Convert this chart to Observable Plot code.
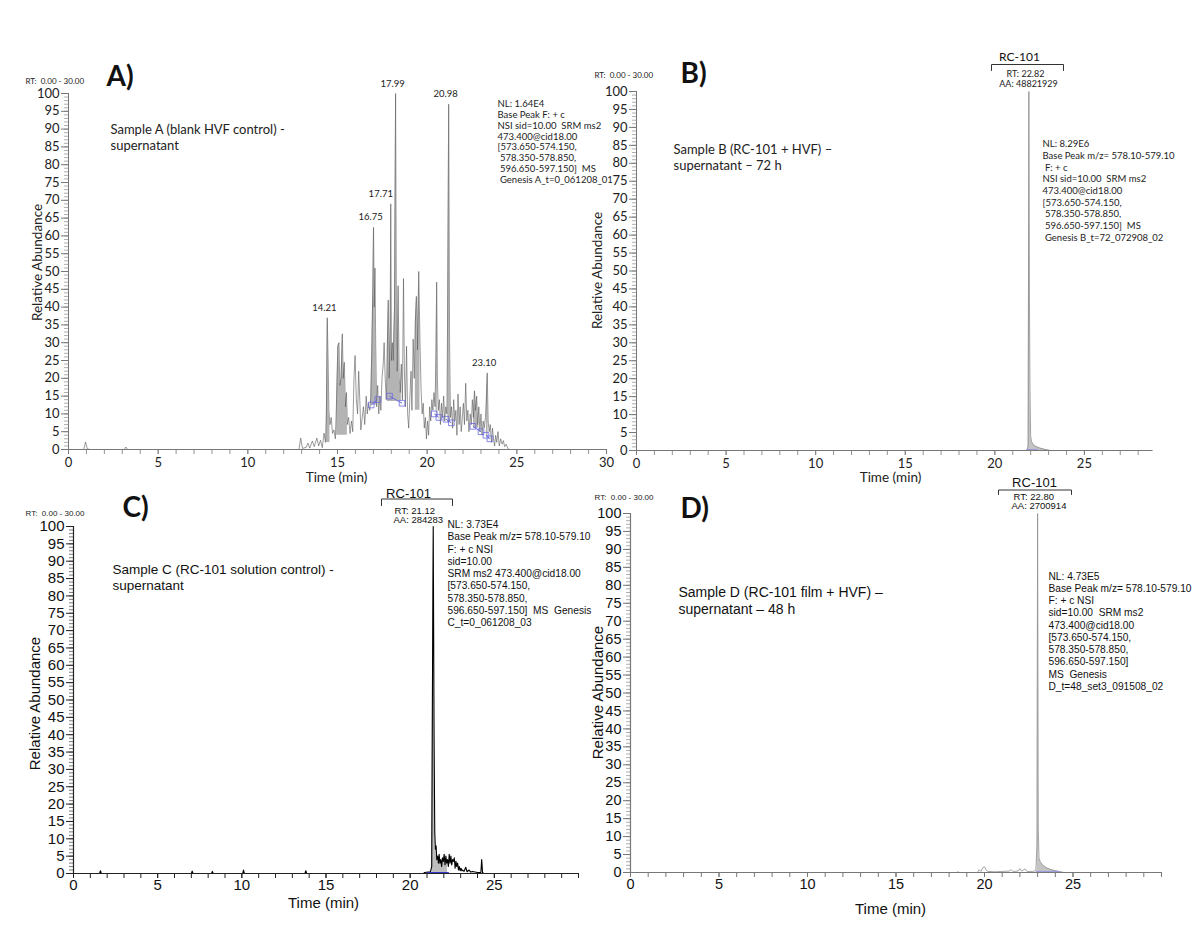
<!DOCTYPE html>
<html><head><meta charset="utf-8">
<script src="https://cdn.jsdelivr.net/npm/d3@7"></script>
<script src="https://cdn.jsdelivr.net/npm/@observablehq/plot@0.6"></script>
<style>
html,body{margin:0;padding:0;background:#fff;}
#chart{position:relative;width:1200px;height:927px;overflow:hidden;background:#fff;}
#chart svg{position:absolute;}
</style></head><body><div id="chart"></div>
<script>
// ---------- DATA ----------
// Sample A: [time (min), relative abundance]
const sampleA = [
[0,0],[0.85,0],[0.95,2.1],[1.05,0.2],[1.2,0],[3.1,0],[3.2,0.7],[3.3,0],[12.85,0],[12.95,3.2],
[13.05,0.3],[13.25,0.6],[13.35,1.8],[13.45,0.4],[13.6,2.4],[13.7,0.8],[13.85,3.2],[13.95,1.0],[14.05,2.6],[14.15,0.5],
[14.25,4.6],[14.33,2.0],[14.38,10],[14.43,37],[14.48,24],[14.52,11],[14.58,7],[14.65,9],[14.72,4.5],[14.8,5.5],
[14.88,3],[14.95,14],[15.02,29],[15.08,30],[15.13,18],[15.2,20],[15.27,32.5],[15.32,20],[15.38,24.5],[15.44,12],
[15.5,16],[15.55,7],[15.62,9],[15.7,4.5],[15.78,8],[15.85,5],[15.92,20],[15.98,26.4],[16.05,14],[16.12,10],
[16.18,22],[16.25,13],[16.3,5.5],[16.38,9],[16.45,12],[16.52,7],[16.6,15],[16.66,10],[16.72,13],[16.8,11],
[16.86,15],[16.92,30],[16.97,45],[17.01,62.4],[17.05,40],[17.09,51],[17.13,30],[17.18,12],[17.24,18],[17.3,10],
[17.36,15],[17.42,11],[17.48,20],[17.55,24],[17.6,30],[17.66,20],[17.72,14],[17.78,29],[17.83,42],[17.88,20],
[17.94,35],[17.97,69],[18.01,25],[18.06,30],[18.11,25],[18.18,40],[18.24,100],[18.29,30],[18.33,22],[18.38,46],
[18.44,20],[18.5,16],[18.56,24],[18.62,14],[18.68,48],[18.73,22],[18.79,12],[18.85,29],[18.91,10],[18.97,6],
[19.03,14],[19.1,22],[19.15,11],[19.22,31],[19.28,20],[19.34,36],[19.4,43],[19.46,28],[19.53,50],[19.6,30],
[19.66,17],[19.72,10],[19.78,13],[19.84,6],[19.9,9],[19.96,3],[20.02,8],[20.08,4],[20.14,12],[20.2,8],
[20.26,14],[20.32,11],[20.38,16],[20.44,12],[20.5,30],[20.53,47],[20.57,20],[20.62,11],[20.68,14],[20.74,7],
[20.8,13],[20.86,9],[20.92,15],[20.98,8],[21.04,12],[21.1,10],[21.15,45],[21.2,97],[21.25,30],[21.3,9],
[21.36,12],[21.42,6],[21.48,14],[21.54,8],[21.6,11],[21.66,4],[21.72,15.6],[21.78,7],[21.84,12],[21.9,5],
[21.96,9],[22.02,13],[22.08,7],[22.15,18.6],[22.21,8],[22.27,11],[22.33,5],[22.4,10],[22.46,7],[22.52,14],
[22.58,9],[22.64,16.5],[22.7,11],[22.76,15],[22.82,7],[22.88,12],[22.94,5],[23.0,10],[23.06,4],[23.12,8],
[23.18,6],[23.25,9],[23.3,14],[23.35,21.5],[23.4,8],[23.46,5],[23.52,7],[23.58,2],[23.64,6],[23.7,3],
[23.76,1],[23.82,4],[23.88,2],[23.95,5],[24.02,1],[24.1,3],[24.18,1.5],[24.25,2.5],[24.32,0.8],[24.4,1.5],
[24.5,0.3],[24.6,0],[30,0]
];
const peakLabelsA = ["14.21","16.75","17.71","17.99","20.98","23.10"];
const peakTimeA   = [14.43, 17.01, 17.97, 18.24, 21.2, 23.35];
const peakValueA  = [37, 62.4, 69, 100, 97, 21.5];
// integrated peak areas in A: [start, end, baseline]
const fillsA = [[14.36,14.62,2],[14.93,15.56,4],[16.86,17.2,12.5],[17.74,18.6,13.5],[19.34,19.6,11],[20.47,20.6,9.5],[21.12,21.3,7.5],[22.58,22.9,6],[23.27,23.42,3.5]];
// peak baselines in A: [t1, v1, t2, v2]
const baselinesA = [[16.88,12.5,17.25,14],[17.9,15,18.6,13],[20.4,10,20.65,9],[21.05,8.5,21.35,7.5],[22.55,6.5,23.0,5],[23.28,4,23.5,3]];

const sampleB = [[0,0],[21.8,0],[21.86,1.5],[21.9,100],[21.93,45],[21.96,18],[22.0,4],[22.05,2.5],[22.15,1.6],[22.3,1.1],[22.5,0.7],[22.8,0.3],[23.1,0],[28.8,0]];
const fillsB = [[21.84,23.1,0]];
const baselinesB = [[21.75,0.3,22.4,0.3]];

const sampleC = [
[0,0],[1.55,0],[1.6,0.8],[1.65,0],[7.0,0],[7.05,0.7],[7.1,0],[8.2,0],[8.25,0.6],[8.3,0],
[10.05,0],[10.1,1.0],[10.15,0],[13.75,0],[13.8,0.8],[13.85,0],[20.8,0],[20.85,0.3],[21.2,0.5],[21.28,2],
[21.33,60],[21.37,100],[21.42,40],[21.46,12],[21.5,7],[21.54,8],[21.58,4],[21.63,5],[21.68,3],[21.72,5.5],
[21.77,3],[21.82,4],[21.87,2],[21.92,4.5],[21.97,3.5],[22.02,5.5],[22.07,2.5],[22.12,5],[22.17,3],[22.22,4],
[22.27,2],[22.32,5.5],[22.37,3],[22.42,5],[22.47,2.5],[22.52,4],[22.57,3.5],[22.62,4.5],[22.67,1.5],[22.72,3.5],
[22.77,2],[22.82,3],[22.87,1.0],[22.92,2],[22.97,0.8],[23.02,1.5],[23.07,0.8],[23.12,1],[23.2,0.6],[23.3,1.8],
[23.38,0.5],[23.5,1],[23.6,0.4],[23.7,0.6],[24.0,0.3],[24.2,0.3],[24.25,4],[24.3,0.2],[24.4,0],[30,0]
];
const fillsC = [[21.27,22.25,0]];
const baselinesC = [[21.0,0.25,22.3,0.25]];

const sampleD = [
[0,0],[18.45,0],[18.5,0.3],[18.55,0],[19.6,0],[19.7,0.8],[19.8,0.3],[19.9,1.3],[20.0,1.6],[20.1,0.6],
[20.2,0.3],[20.6,0.2],[21.0,0.3],[21.4,0.4],[21.5,0.8],[21.6,0.3],[21.9,0.4],[22.0,1.1],[22.1,0.4],[22.3,1.0],
[22.4,0.3],[22.7,0.3],[22.9,0.5],[22.97,8],[23.0,100],[23.04,12],[23.08,4],[23.15,3],[23.3,2],[23.5,1.3],
[23.7,0.9],[23.9,0.6],[24.1,0.4],[24.3,0.2],[24.5,0],[30,0]
];
const fillsD = [[22.93,24.3,0]];
const baselinesD = [[22.9,0.3,24.3,0.3]];

const yTickLabels = [0,5,10,15,20,25,30,35,40,45,50,55,60,65,70,75,80,85,90,95,100];
const xTickLabelsA = [0,5,10,15,20,25,30];
const xTickLabels = [0,5,10,15,20,25];

const nlA = "NL: 1.64E4\nBase Peak F: + c\nNSI sid=10.00  SRM ms2\n473.400@cid18.00\n[573.650-574.150,\n 578.350-578.850,\n 596.650-597.150]  MS\n Genesis A_t=0_061208_01";
const nlB = "NL: 8.29E6\nBase Peak m/z= 578.10-579.10\n F: + c\nNSI sid=10.00  SRM ms2\n473.400@cid18.00\n[573.650-574.150,\n 578.350-578.850,\n 596.650-597.150]  MS\n Genesis B_t=72_072908_02";
const nlC = "NL: 3.73E4\nBase Peak m/z= 578.10-579.10\nF: + c NSI\nsid=10.00\nSRM ms2 473.400@cid18.00\n[573.650-574.150,\n578.350-578.850,\n596.650-597.150]  MS  Genesis\nC_t=0_061208_03";
const nlD = "NL: 4.73E5\nBase Peak m/z= 578.10-579.10\nF: + c NSI\nsid=10.00  SRM ms2\n473.400@cid18.00\n[573.650-574.150,\n578.350-578.850,\n596.650-597.150]\nMS  Genesis\nD_t=48_set3_091508_02";

// ---------- DRAW ----------
const chart = document.getElementById("chart");

function panel(c) {
  const mL = c.x0 - c.left, mR = c.left + c.width - c.x1;
  const mT = c.y100 - c.top, mB = c.top + c.height - c.y0;
  const kx = (c.x1 - c.x0) / c.xMax, ky = (c.y0 - c.y100) / 100;
  const tOf = px => (px - c.x0) / kx, vOf = py => (c.y0 - py) / ky;
  const rows = c.trace.map(([t, v]) => ({t, v}));
  const T = (str, px, py, o = {}) => Plot.text([str], {
    text: d => d, frameAnchor: "top-left",
    dx: px - c.x0, dy: py - c.y100,
    textAnchor: o.anchor || "start", lineAnchor: o.la || "middle",
    fontSize: o.size || 10, fontWeight: o.weight || "normal",
    fontFamily: o.family || c.font, fill: o.color || c.text,
    lineHeight: o.lh || 1.15, rotate: o.rotate || 0
  });
  const marks = [];
  c.fills.forEach(([s, e, b]) => marks.push(Plot.areaY(rows, {
    filter: d => d.t >= s && d.t <= e, x: "t", y1: b, y2: "v", fill: c.fill
  })));
  marks.push(Plot.line(rows, {x: "t", y: "v", stroke: c.stroke, strokeWidth: c.sw}));
  marks.push(Plot.link(c.baselines, {x1: d => d[0], y1: d => d[1], x2: d => d[2], y2: d => d[3], stroke: c.blue, strokeWidth: 1}));
  if (c.boxes) {
    const ends = c.baselines.flatMap(d => [[d[0], d[1]], [d[2], d[3]]]);
    marks.push(Plot.dot(ends, {x: d => d[0], y: d => d[1], symbol: "square", r: 3.2, stroke: c.blue, fill: "none", strokeWidth: 0.8}));
  }
  // axes
  const xMinor = d3.range(0, Math.floor(c.xMax) + 1, 1);
  marks.push(
    Plot.axisY(d3.range(0, 101, 1), {tickSize: 4, tickFormat: () => "", stroke: c.axis, strokeWidth: 0.6, label: null}),
    Plot.axisY(yTickLabels, {tickSize: 7, tickPadding: 2, stroke: c.axis, fill: c.text, fontSize: c.tickSize, fontFamily: c.font, label: null}),
    Plot.axisX(xMinor, {tickSize: 5, tickFormat: () => "", stroke: c.axis, strokeWidth: c.tickW, label: null}),
    Plot.axisX(c.xTicks, {tickSize: 5, tickPadding: c.xPad, stroke: c.axis, strokeWidth: c.tickW, fill: c.text, fontSize: c.tickSize, fontFamily: c.font, label: null}),
    Plot.ruleX([0], {stroke: c.axis, strokeWidth: c.axisW}),
    Plot.ruleY([0], {stroke: c.axis, strokeWidth: c.axisW})
  );
  // annotations
  marks.push(
    T(c.letter, c.letterPos[0], c.letterPos[1], {size: 28, weight: "bold", family: "Lato", color: "#111"}),
    T("RT:  0.00 - 30.00", c.rtPos[0], c.rtPos[1], {size: 8, color: "#222"}),
    T(c.sample, c.samplePos[0], c.samplePos[1], {size: c.sampleSize, la: "top", lh: c.sampleLh}),
    T(c.nl, c.nlPos[0], c.nlPos[1], {size: c.nlSize, la: "top", lh: c.nlLh}),
    T("Relative Abundance", c.yLabPos[0], c.yLabPos[1], {size: c.labSize, anchor: "middle", rotate: -90}),
    T("Time (min)", c.xLabPos[0], c.xLabPos[1], {size: c.labSize, anchor: "middle"})
  );
  if (c.rc) {
    const r = c.rc;
    marks.push(
      Plot.line([[r.x1, r.yb], [r.x1, r.yt], [r.x2, r.yt], [r.x2, r.yb]].map(([px, py]) => [tOf(px), vOf(py)]),
        {x: d => d[0], y: d => d[1], stroke: "#333", strokeWidth: 1}),
      T("RC-101", r.lx, r.ly, {size: r.size, anchor: "middle", color: "#111"}),
      T(r.rt, r.tx, r.ty, {size: r.small, anchor: r.anchor || "middle"}),
      T(r.aa, r.ax, r.ay, {size: r.small, anchor: r.anchor || "middle"})
    );
  }
  if (c.peaks) {
    const pk = c.peaks.labels.map((l, i) => ({l, t: c.peaks.t[i], v: c.peaks.v[i]}));
    const opt = {x: "t", y: "v", text: "l", dy: -7, fontSize: 9.5, fontFamily: c.font, fill: "#222", lineAnchor: "bottom"};
    marks.push(
      Plot.text(pk, {...opt, filter: d => d.l !== "17.71", dx: -3}),
      Plot.text(pk, {...opt, filter: d => d.l === "17.71", dx: -10})
    );
  }
  const svg = Plot.plot({
    width: c.width, height: c.height,
    marginLeft: mL, marginRight: mR, marginTop: mT, marginBottom: mB,
    x: {domain: [0, c.xMax]}, y: {domain: [0, 100]},
    style: {background: "transparent", overflow: "visible", maxWidth: "none", fontFamily: c.font, color: c.text},
    marks
  });
  svg.style.left = c.left + "px";
  svg.style.top = c.top + "px";
  chart.appendChild(svg);
}

const calib = {font: "Lato", text: "#222", tickSize: 13, labSize: 13.5, sampleSize: 13, sampleLh: 1.25, nlSize: 9.5, tickW: 0.8, axisW: 1, xPad: 3};
const arial = {font: "Liberation Sans", text: "#111", labSize: 15, nlSize: 10.2, tickW: 1, axisW: 1.2, xPad: 1};

panel({...calib, left: 0, top: 40, width: 620, height: 460, x0: 68, x1: 606, xMax: 30, y100: 93, y0: 449,
  trace: sampleA, fills: fillsA, baselines: baselinesA, boxes: true,
  fill: "#b4b4b4", stroke: "#575757", sw: 0.6, blue: "#6b6be0", axis: "#777",
  xTicks: xTickLabelsA, letter: "A)", letterPos: [106, 75], rtPos: [25, 81],
  sample: "Sample A (blank HVF control) -\nsupernatant", samplePos: [110, 122],
  nl: nlA, nlPos: [497, 98.5], nlLh: 1.15,
  yLabPos: [37, 262], xLabPos: [336, 477],
  peaks: {labels: peakLabelsA, t: peakTimeA, v: peakValueA}
});

panel({...calib, left: 580, top: 40, width: 620, height: 460, x0: 636, x1: 1152, xMax: 28.8, y100: 91, y0: 450,
  trace: sampleB, fills: fillsB, baselines: baselinesB,
  fill: "#c4c4c4", stroke: "#8c8c8c", sw: 0.8, blue: "#9a9ae0", axis: "#777",
  xTicks: xTickLabels, letter: "B)", letterPos: [680, 72], rtPos: [594, 75],
  sample: "Sample B (RC-101 + HVF) –\nsupernatant – 72 h", samplePos: [673, 142],
  nl: nlB, nlPos: [1042, 138.5], nlLh: 1.23,
  yLabPos: [597, 270], xLabPos: [890, 477],
  rc: {x1: 991, x2: 1063, yt: 64, yb: 70, lx: 1019, ly: 56, size: 12, rt: "RT: 22.82", tx: 1025, ty: 73.5, aa: "AA: 48821929", ax: 1028, ay: 83, small: 9}
});

panel({...arial, left: 0, top: 480, width: 620, height: 447, x0: 73, x1: 578, xMax: 30, y100: 526, y0: 873,
  trace: sampleC, fills: fillsC, baselines: baselinesC,
  fill: "#bdbdbd", stroke: "#000", sw: 1.1, blue: "#2323c8", axis: "#222", tickSize: 15,
  xTicks: xTickLabels, letter: "C)", letterPos: [122, 506], rtPos: [25, 513],
  sample: "Sample C (RC-101 solution control) -\nsupernatant", samplePos: [112, 562], sampleSize: 13.5, sampleLh: 1.2,
  nl: nlC, nlPos: [447, 519], nlLh: 1.2,
  yLabPos: [34, 703], xLabPos: [323, 902],
  rc: {x1: 381, x2: 452, yt: 498.5, yb: 505, lx: 408, ly: 493, size: 13, rt: "RT: 21.12", tx: 394, ty: 509.5, aa: "AA: 284283", ax: 393, ay: 518.5, small: 9.5, anchor: "start"}
});

panel({...arial, left: 580, top: 480, width: 620, height: 447, x0: 630, x1: 1161, xMax: 30, y100: 513, y0: 872,
  trace: sampleD, fills: fillsD, baselines: baselinesD,
  fill: "#c4c4c4", stroke: "#8f8f8f", sw: 0.8, blue: "#9a9ae0", axis: "#777", tickSize: 14.5,
  xTicks: xTickLabels, letter: "D)", letterPos: [680, 507], rtPos: [594, 497],
  sample: "Sample D (RC-101 film + HVF) –\nsupernatant – 48 h", samplePos: [678, 585], sampleSize: 14, sampleLh: 1.2,
  nl: nlD, nlPos: [1048, 570.5], nlLh: 1.2,
  yLabPos: [597, 692], xLabPos: [890, 908],
  rc: {x1: 998, x2: 1071, yt: 489.5, yb: 494, lx: 1034, ly: 482, size: 13, rt: "RT: 22.80", tx: 1013, ty: 495.5, aa: "AA: 2700914", ax: 1011, ay: 505, small: 9.5, anchor: "start"}
});
</script></body></html>
